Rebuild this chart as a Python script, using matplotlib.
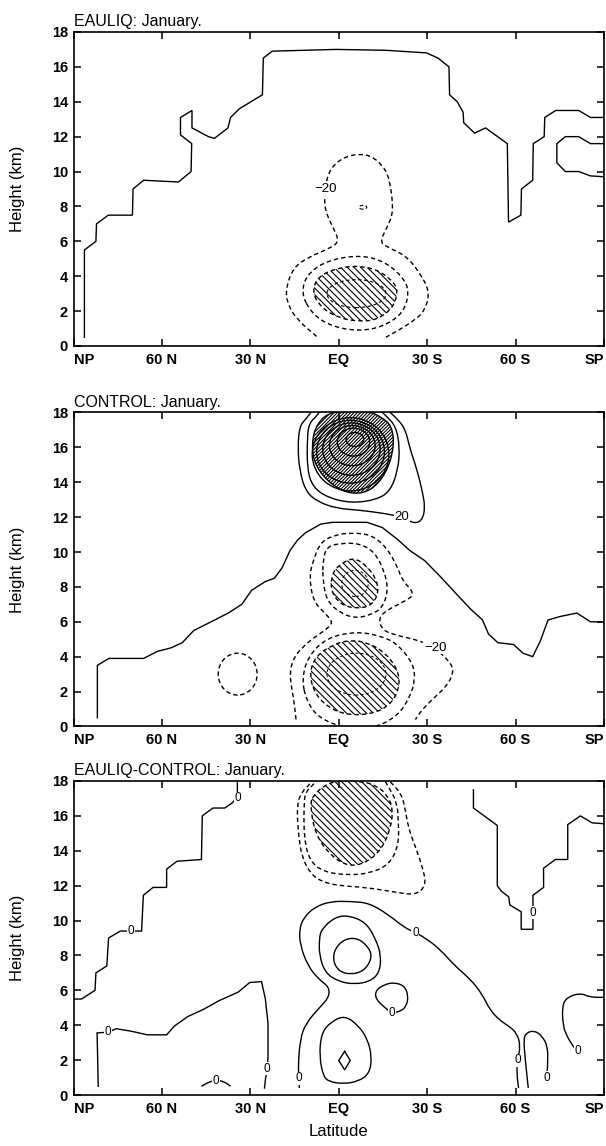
import matplotlib

matplotlib.use("Agg")
import matplotlib.pyplot as plt
import numpy as np
from matplotlib.patches import Ellipse, PathPatch
from matplotlib.path import Path

plt.rcParams["font.family"] = ["Liberation Sans", "DejaVu Sans"]
plt.rcParams["hatch.linewidth"] = 0.8

LAT_TICKS = [90, 60, 30, 0, -30, -60, -90]
LAT_LABELS = ["NP", "60 N", "30 N", "EQ", "30 S", "60 S", "SP"]
HEIGHT_TICKS = list(range(0, 19, 2))

# contour traces are (latitude, height km); positive latitude = north

# ---- EAULIQ ----
EAULIQ_STEP = [(86.3, 0.5), (86.3, 5.5), (82.4, 6.0), (82.2, 7.0), (78.2, 7.5), (70.0, 7.5),
               (69.8, 9.0), (66.2, 9.5), (54.4, 9.4), (50.1, 10.0), (49.9, 11.6), (53.7, 12.1),
               (53.7, 13.1), (49.8, 13.5), (49.8, 12.5), (44.2, 12.0), (42.2, 11.9), (37.6, 12.5),
               (36.7, 13.1), (33.7, 13.6), (25.9, 14.4), (25.6, 16.5), (22.6, 16.9), (1.0, 17.0),
               (-16.0, 16.95), (-29.8, 16.8), (-33.7, 16.5), (-37.4, 16.0), (-37.6, 14.4),
               (-40.2, 14.0), (-42.2, 13.4), (-42.4, 12.8), (-46.1, 12.2), (-49.8, 12.5),
               (-57.2, 11.6), (-57.6, 7.1), (-61.8, 7.5), (-62.0, 9.0), (-65.8, 9.5), (-66.0, 11.6),
               (-69.7, 12.0), (-69.9, 13.1), (-73.6, 13.5), (-81.4, 13.5), (-85.4, 13.1), (-90.0, 13.1)]
EAULIQ_SP = [(-90.0, 11.6), (-85.4, 11.6), (-81.4, 12.0), (-76.9, 12.0), (-74.0, 11.6), (-74.0, 10.5),
             (-76.9, 10.0), (-81.4, 10.0), (-85.4, 9.75), (-90.0, 9.7)]
EAULIQ_NEG20 = [(7.5, 0.55), (14.1, 1.5), (17.4, 2.4), (18.0, 3.3), (15.4, 4.5), (10.2, 5.1), (3.0, 5.6),
                (-0.3, 6.0), (2.3, 6.9), (4.9, 7.9), (4.6, 9.0), (3.6, 9.9), (1.0, 10.5), (-3.0, 10.9),
                (-7.5, 11.0), (-10.8, 10.9), (-14.7, 10.4), (-17.3, 9.6), (-18.6, 7.7), (-16.7, 6.9),
                (-14.0, 6.0), (-16.0, 5.7), (-22.6, 5.2), (-27.1, 4.3), (-31.0, 3.1), (-29.1, 2.0),
                (-25.8, 1.5), (-21.3, 1.0), (-16.0, 0.5)]
EAULIQ_RING = [(13.0, 3.1), (10.0, 4.3), (2.0, 5.0), (-8.2, 5.2), (-16.0, 4.8), (-22.0, 3.9),
               (-23.9, 3.1), (-22.0, 1.9), (-15.0, 1.1), (-6.9, 0.85), (2.0, 1.1), (9.0, 1.8)]
EAULIQ_HATCH = [(9.1, 3.1), (7.0, 4.0), (0.0, 4.5), (-7.5, 4.6), (-14.0, 4.3), (-19.0, 3.6),
                (-20.0, 3.1), (-18.5, 2.2), (-13.0, 1.5), (-6.9, 1.4), (0.0, 1.6), (6.0, 2.2)]
EAULIQ_OVALS = [(-8.2, 7.95, 2.6, 0.22), (-6.0, 3.0, 20.0, 1.6)]  # lat, height, width, depth
EAULIQ_LABELS = [(4.3, 9.0, "\u221220")]

# ---- CONTROL ----
CONTROL_MAIN = [(81.9, 0.5), (81.9, 3.5), (78.0, 3.9), (66.2, 3.9), (61.6, 4.3), (57.0, 4.5),
                (53.1, 4.8), (49.2, 5.5), (43.3, 6.0), (37.5, 6.5), (32.9, 7.0), (29.6, 7.8),
                (25.0, 8.3), (21.8, 8.5), (19.2, 9.1), (16.5, 10.1), (13.9, 10.7), (11.3, 11.1),
                (6.1, 11.6), (2.2, 11.7), (-9.6, 11.7), (-14.8, 11.4), (-20.1, 10.7), (-24.0, 10.1),
                (-29.2, 9.5), (-34.4, 8.6), (-41.0, 7.4), (-44.9, 6.7), (-48.8, 6.1), (-50.8, 5.3),
                (-54.0, 4.8), (-59.3, 4.7), (-62.5, 4.2), (-65.8, 4.0), (-68.4, 4.9), (-71.0, 6.1),
                (-75.0, 6.3), (-80.8, 6.5), (-85.4, 6.0), (-90.0, 6.0)]
CONTROL_TOP_20 = [(8.5, 18.2), (11.3, 17.6), (13.3, 17.2), (13.9, 16.0), (13.3, 14.7), (11.3, 13.5),
                  (7.4, 12.9), (0.8, 12.5), (-7.0, 12.4), (-16.1, 12.2), (-21.4, 12.0), (-26.0, 11.6),
                  (-28.6, 11.9), (-29.2, 12.6), (-28.6, 13.3), (-26.6, 14.7), (-24.0, 16.0),
                  (-22.7, 17.0), (-20.1, 17.6), (-16.1, 18.2)]
CONTROL_TOP_40 = [(6.0, 18.2), (7.4, 17.8), (10.0, 17.4), (10.7, 16.6), (10.7, 14.7), (8.7, 13.7),
                  (3.5, 13.1), (-4.4, 12.8), (-12.9, 13.0), (-17.5, 13.5), (-20.1, 14.7),
                  (-20.7, 16.0), (-19.4, 17.2), (-16.1, 17.8), (-13.5, 18.2)]
CONTROL_TOP_HATCH = [(9.3, 16.2), (8.0, 14.9), (2.2, 13.8), (-4.4, 13.3), (-10.9, 13.5),
                     (-16.1, 14.5), (-18.8, 16.0), (-18.1, 17.2), (-14.8, 17.7), (-10.0, 18.1),
                     (2.2, 18.1), (7.4, 17.4)]
CONTROL_TOP_RINGS = [(-5.5, 16.45, 6.0, 0.8), (-5.0, 16.3, 11.0, 1.6), (-4.6, 16.1, 15.5, 2.3),
                     (-4.3, 15.9, 19.5, 3.0), (-4.0, 15.75, 23.0, 3.6), (-4.0, 15.6, 26.0, 4.2)]
CONTROL_NEG20 = [(14.5, 0.4), (15.2, 1.5), (16.8, 3.0), (15.2, 4.0), (11.3, 4.7), (8.6, 5.06),
                 (4.8, 5.5), (1.7, 5.95), (4.8, 6.5), (8.7, 7.2), (10.0, 8.6), (8.7, 9.5), (6.1, 10.6),
                 (0.8, 11.0), (-4.4, 11.1), (-10.9, 11.0), (-16.1, 10.3), (-20.1, 9.1), (-21.4, 8.4),
                 (-25.9, 7.6), (-22.7, 7.2), (-16.1, 6.65), (-13.5, 6.2), (-14.8, 5.5), (-20.1, 5.2),
                 (-27.9, 4.9), (-32.7, 4.5), (-38.3, 3.6), (-38.9, 3.05), (-36.6, 2.3), (-32.0, 1.6),
                 (-28.0, 0.9), (-26.0, 0.4)]
CONTROL_MID_RING = [(5.4, 9.5), (4.1, 10.3), (-0.5, 10.5), (-7.0, 10.5), (-12.2, 10.0), (-15.5, 8.9),
                    (-16.8, 7.8), (-14.8, 6.8), (-10.9, 6.4), (-5.7, 6.2), (-0.5, 6.5), (4.1, 7.2),
                    (5.4, 8.4)]
CONTROL_MID_HATCH = [(2.2, 8.8), (-0.5, 9.3), (-5.0, 9.7), (-9.6, 9.2), (-12.9, 8.4), (-13.5, 7.6),
                     (-10.9, 6.9), (-5.7, 6.75), (-0.5, 7.0), (2.8, 7.8)]
CONTROL_LOW_RING = [(12.5, 2.7), (10.5, 4.0), (4.0, 5.1), (-6.0, 5.44), (-14.0, 5.2), (-19.7, 4.77),
                    (-25.3, 3.6), (-25.9, 2.67), (-24.2, 1.7), (-20.0, 0.6), (-12.0, -0.1),
                    (-2.0, -0.1), (7.0, 0.5), (11.0, 1.5)]
CONTROL_LOW_HATCH = [(10.0, 3.0), (8.0, 4.0), (2.0, 4.7), (-3.9, 4.96), (-10.0, 4.8), (-16.0, 4.2),
                     (-20.8, 3.05), (-20.0, 1.8), (-15.0, 0.9), (-6.0, 0.6), (2.0, 0.9), (8.0, 1.8)]
CONTROL_OVALS = [(34.3, 3.0, 13.2, 2.4), (-6.0, 3.0, 20.0, 2.4), (-5.5, 8.2, 9.0, 1.5)]
CONTROL_LABELS = [(-21.4, 12.0, "20"), (-32.7, 4.5, "\u221220")]

# ---- EAULIQ-CONTROL ----
DIFF_STEP_NH = [(90.0, 5.5), (87.3, 5.5), (82.7, 6.0), (82.4, 7.0), (78.7, 7.4), (78.1, 9.0),
                (74.1, 9.4), (66.9, 9.4), (66.3, 11.45), (63.0, 11.9), (58.4, 11.9), (58.4, 12.95),
                (54.9, 13.4), (46.6, 13.5), (46.3, 16.0), (42.7, 16.45), (38.7, 16.45), (36.1, 16.75),
                (34.4, 17.1), (34.4, 18.0)]
DIFF_LOW_NH = [(81.6, 0.5), (82.0, 3.56), (78.3, 3.6), (75.5, 3.8), (70.2, 3.65), (65.0, 3.45),
               (58.4, 3.45), (55.8, 3.95), (51.2, 4.5), (46.0, 4.9), (40.7, 5.4), (34.1, 5.9),
               (30.2, 6.45), (26.2, 6.5), (24.9, 5.5), (24.0, 4.1), (24.0, 2.2), (24.3, 1.5),
               (24.9, 0.87), (25.2, 0.4)]
DIFF_ARCH = [(46.6, 0.5), (44.0, 0.75), (41.6, 0.85), (39.0, 0.78), (36.7, 0.5)]
DIFF_ZERO = [(13.4, 0.4), (13.4, 0.96), (13.8, 1.6), (13.1, 3.2), (11.2, 4.1), (6.6, 5.0), (3.3, 5.6),
             (3.3, 6.2), (6.6, 6.6), (10.5, 7.4), (13.1, 8.6), (13.4, 9.5), (11.8, 10.2), (7.9, 10.8),
             (2.6, 11.1), (-3.9, 11.1), (-10.5, 11.0), (-17.1, 10.3), (-22.3, 9.6), (-26.0, 9.3),
             (-28.9, 9.05), (-34.1, 8.4), (-39.4, 7.4), (-44.6, 6.65), (-48.6, 5.8), (-51.2, 4.9),
             (-54.5, 4.3), (-57.7, 3.95), (-60.4, 3.56), (-61.7, 2.8), (-60.6, 1.98), (-60.4, 1.25),
             (-61.0, 0.4)]
DIFF_MID_OUTER = [(5.9, 9.5), (1.3, 10.2), (-3.3, 10.3), (-9.2, 9.9), (-12.5, 8.95), (-14.4, 8.0),
                  (-13.8, 7.0), (-10.5, 6.5), (-5.2, 6.35), (0.0, 6.5), (4.6, 7.0), (6.6, 8.0),
                  (6.6, 8.95)]
DIFF_MID_INNER = [(1.3, 8.4), (-2.0, 8.95), (-6.6, 9.0), (-10.5, 8.4), (-11.2, 7.8), (-8.5, 7.1),
                  (-3.9, 6.9), (0.0, 7.1), (2.0, 7.7)]
DIFF_LOW_OVAL = [(5.2, 1.06), (6.6, 2.2), (5.9, 3.56), (2.6, 4.2), (-2.0, 4.56), (-6.6, 4.0),
                 (-9.8, 3.2), (-11.2, 2.2), (-10.5, 1.25), (-6.6, 0.77), (-1.3, 0.64), (3.3, 0.77)]
DIFF_DIAMOND = [(-2.0, 2.5), (-3.9, 1.98), (-2.0, 1.44), (0.0, 1.98), (-2.0, 2.5)]
DIFF_SMALL_LOOP = [(-15.7, 5.0), (-12.5, 5.5), (-12.5, 6.0), (-15.7, 6.35), (-19.0, 6.45),
                   (-22.3, 6.25), (-23.6, 5.7), (-23.0, 5.1), (-21.0, 4.8), (-18.0, 4.7)]
DIFF_TOP_OUTER = [(8.5, 18.2), (9.8, 17.8), (12.5, 17.4), (14.2, 16.65), (13.8, 15.1), (12.5, 13.6),
                  (9.2, 12.6), (5.2, 12.2), (0.0, 12.0), (-9.2, 11.9), (-18.4, 11.65), (-26.2, 11.45),
                  (-29.5, 12.0), (-28.9, 12.8), (-26.2, 14.15), (-23.6, 15.3), (-22.3, 16.65),
                  (-21.0, 17.3), (-18.4, 17.8), (-16.0, 18.2)]
DIFF_TOP_MID = [(7.0, 18.2), (8.5, 17.8), (11.2, 17.4), (11.8, 16.8), (11.8, 14.7), (9.8, 13.4),
                (5.2, 12.8), (-2.6, 12.6), (-10.5, 12.7), (-17.1, 13.2), (-20.3, 14.3), (-20.3, 15.7),
                (-19.7, 16.8), (-17.1, 17.6), (-15.0, 18.2)]
DIFF_TOP_HATCH = [(9.8, 16.65), (7.9, 14.9), (2.6, 13.7), (-3.3, 13.1), (-9.2, 13.3), (-14.4, 14.05),
                  (-17.7, 15.3), (-18.4, 16.45), (-16.4, 17.2), (-13.1, 17.7), (-7.9, 18.0),
                  (1.3, 18.0), (5.2, 17.7), (8.5, 17.2)]
DIFF_STEP_SH = [(-45.7, 17.5), (-45.7, 16.45), (-53.8, 15.45), (-53.8, 12.0), (-55.1, 11.7),
                (-57.7, 11.35), (-58.0, 10.9), (-61.9, 10.5), (-61.9, 9.5), (-65.9, 9.5),
                (-65.9, 11.45), (-69.5, 11.9), (-69.5, 13.0), (-73.5, 13.5), (-77.7, 13.5),
                (-77.7, 15.5), (-82.0, 16.0), (-86.0, 15.6), (-90.0, 15.55)]
DIFF_SP_LOW = [(-90.0, 5.6), (-85.3, 5.6), (-82.0, 5.85), (-77.4, 5.6), (-75.8, 5.1), (-76.1, 3.95),
               (-77.4, 3.4), (-78.7, 3.0), (-80.0, 2.7)]
DIFF_65S = [(-64.3, 0.4), (-63.3, 2.0), (-62.7, 3.2), (-63.6, 3.56), (-66.3, 3.7), (-68.9, 3.4),
            (-70.9, 2.8), (-70.9, 1.8), (-70.7, 1.3)]
DIFF_LABELS = [(70.5, 9.4), (34.1, 17.0), (78.3, 3.6), (24.3, 1.5), (41.6, 0.83), (13.4, 0.96),
               (-26.0, 9.3), (-60.6, 1.98), (-66.0, 10.45), (-18.1, 4.72), (-81.0, 2.5),
               (-70.6, 1.0)]

DASH = (0, (3.2, 2.2))
HATCH_BACK = "\\" * 5
HATCH_DENSE = "/" * 10


def smooth_path(pts, closed=False):
    """Quadratic B-spline path using the traced points as control points."""
    pts = np.asarray(pts, dtype=float)
    if closed:
        mids = (pts + np.roll(pts, -1, axis=0)) / 2
        verts = [mids[-1]]
        codes = [Path.MOVETO]
        for p, m in zip(pts, mids):
            verts += [p, m]
            codes += [Path.CURVE3, Path.CURVE3]
    else:
        mids = (pts[:-1] + pts[1:]) / 2
        verts = [pts[0], mids[0]]
        codes = [Path.MOVETO, Path.LINETO]
        for p, m in zip(pts[1:-1], mids[1:]):
            verts += [p, m]
            codes += [Path.CURVE3, Path.CURVE3]
        verts.append(pts[-1])
        codes.append(Path.LINETO)
    return Path(verts, codes)


def curve(ax, pts, dashed=False, closed=False, smooth=True, hatch=None, lw=1.0):
    ls = DASH if dashed else "-"
    if smooth:
        patch = PathPatch(smooth_path(pts, closed), facecolor="none", edgecolor="black",
                          lw=lw, linestyle=ls, hatch=hatch)
        ax.add_patch(patch)
    else:
        xs, ys = zip(*pts)
        ax.plot(xs, ys, color="black", lw=lw, linestyle=ls, solid_joinstyle="miter")


def ovals(ax, items, dashed=True, lw=1.0):
    for lat, h, w, d in items:
        ax.add_patch(Ellipse((lat, h), w, d, facecolor="none", edgecolor="black", lw=lw,
                             linestyle=DASH if dashed else "-"))


def label(ax, lat, h, text, size=9.5):
    ax.text(lat, h, text, ha="center", va="center", fontsize=size, zorder=5,
            bbox=dict(facecolor="white", edgecolor="none", pad=0.4))


def style_axes(ax, title, bottom_label=False):
    ax.set_xlim(90, -90)
    ax.set_ylim(0, 18)
    ax.set_xticks(LAT_TICKS)
    ax.set_xticklabels(LAT_LABELS, fontweight="bold", fontsize=10.5)
    ax.set_yticks(HEIGHT_TICKS)
    ax.set_yticklabels([str(v) for v in HEIGHT_TICKS], fontweight="bold", fontsize=10.5)
    ticks = ax.get_xticklabels()
    ticks[0].set_ha("left")
    ticks[-1].set_ha("right")
    ax.tick_params(direction="in", length=5, width=1.1, top=True, right=True)
    ax.tick_params(axis="x", pad=5)
    ax.tick_params(axis="y", pad=4)
    for sp in ax.spines.values():
        sp.set_linewidth(1.2)
    ax.set_title(title, loc="left", fontsize=11.5, pad=4)
    ax.set_ylabel("Height (km)", fontsize=12)
    ax.yaxis.set_label_coords(-0.105, 0.5)
    ax.yaxis.label.set_verticalalignment("center")
    if bottom_label:
        ax.set_xlabel("Latitude", fontsize=12)
        ax.xaxis.set_label_coords(0.5, -0.115)
        ax.xaxis.label.set_verticalalignment("center")


def draw_eauliq(ax):
    curve(ax, EAULIQ_STEP, smooth=False)
    curve(ax, EAULIQ_SP, smooth=False)
    curve(ax, EAULIQ_NEG20, dashed=True)
    curve(ax, EAULIQ_RING, dashed=True, closed=True)
    curve(ax, EAULIQ_HATCH, dashed=True, closed=True, hatch=HATCH_BACK)
    ovals(ax, EAULIQ_OVALS, lw=0.8)
    for lat, h, text in EAULIQ_LABELS:
        label(ax, lat, h, text)
    style_axes(ax, "EAULIQ: January.")


def draw_control(ax):
    curve(ax, CONTROL_MAIN, smooth=False)
    curve(ax, CONTROL_TOP_20)
    curve(ax, CONTROL_TOP_40)
    curve(ax, CONTROL_TOP_HATCH, closed=True, hatch=HATCH_DENSE)
    ovals(ax, CONTROL_TOP_RINGS, dashed=False, lw=1.0)
    curve(ax, CONTROL_NEG20, dashed=True)
    curve(ax, CONTROL_MID_RING, dashed=True, closed=True)
    curve(ax, CONTROL_MID_HATCH, dashed=True, closed=True, hatch=HATCH_BACK)
    curve(ax, CONTROL_LOW_RING, dashed=True, closed=True)
    curve(ax, CONTROL_LOW_HATCH, dashed=True, closed=True, hatch=HATCH_BACK)
    ovals(ax, CONTROL_OVALS[:1])
    ovals(ax, CONTROL_OVALS[1:], lw=0.7)
    for lat, h, text in CONTROL_LABELS:
        label(ax, lat, h, text)
    style_axes(ax, "CONTROL: January.")


def draw_difference(ax):
    curve(ax, DIFF_STEP_NH, smooth=False)
    curve(ax, DIFF_LOW_NH, smooth=False)
    curve(ax, DIFF_ARCH)
    curve(ax, DIFF_ZERO)
    curve(ax, DIFF_MID_OUTER, closed=True)
    curve(ax, DIFF_MID_INNER, closed=True)
    curve(ax, DIFF_LOW_OVAL, closed=True)
    curve(ax, DIFF_DIAMOND, smooth=False)
    curve(ax, DIFF_SMALL_LOOP, closed=True)
    curve(ax, DIFF_TOP_OUTER, dashed=True)
    curve(ax, DIFF_TOP_MID, dashed=True)
    curve(ax, DIFF_TOP_HATCH, dashed=True, closed=True, hatch=HATCH_BACK)
    curve(ax, DIFF_STEP_SH, smooth=False)
    curve(ax, DIFF_SP_LOW)
    curve(ax, DIFF_65S)
    for lat, h in DIFF_LABELS:
        label(ax, lat, h, "0", size=8.5)
    style_axes(ax, "EAULIQ-CONTROL: January.", bottom_label=True)


def main() -> None:
    fig = plt.figure(figsize=(6.06, 11.46), dpi=100)
    left, width, height = 0.1213, 0.8754, 0.274
    ax1 = fig.add_axes([left, 0.6981, width, height])
    ax2 = fig.add_axes([left, 0.3661, width, height])
    ax3 = fig.add_axes([left, 0.0445, width, height])

    draw_eauliq(ax1)
    draw_control(ax2)
    draw_difference(ax3)

    fig.savefig("out.png", dpi=100)


if __name__ == "__main__":
    main()
